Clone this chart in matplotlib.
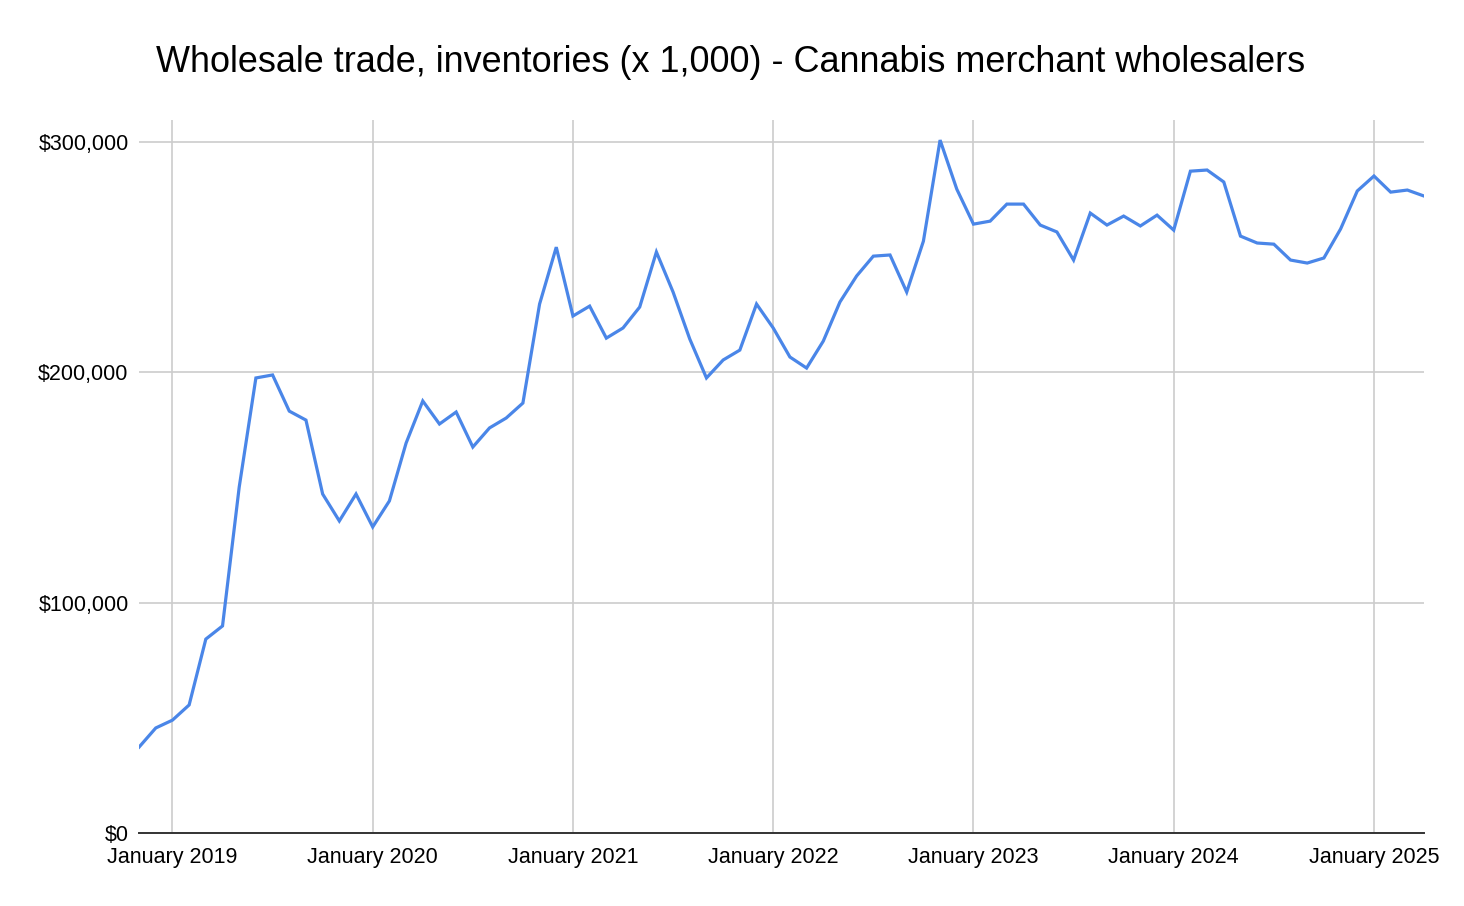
import matplotlib
matplotlib.use("Agg")
import matplotlib.pyplot as plt
from matplotlib.ticker import FuncFormatter

plt.rcParams['font.family'] = ['Liberation Sans', 'DejaVu Sans']

# Monthly data, November 2018 .. April 2025 (x 1,000 dollars)
months = []
for y in range(2018, 2026):
    for m in range(1, 13):
        if (y, m) >= (2018, 11) and (y, m) <= (2025, 4):
            months.append((y, m))

values = [
    37300, 45600,
    49000, 55600, 84200, 89900, 150200, 197600, 198900, 183200, 179300, 147200, 135500, 147200,
    132900, 144200, 169300, 187600, 177600, 182800, 167600, 175900, 180200, 186700, 229700, 254400,
    224500, 228800, 214900, 219300, 228400, 252300, 234900, 214500, 197600, 205400, 209700, 229700,
    219300, 206700, 201900, 213600, 230600, 241900, 250500, 251000, 234900, 257000, 300900, 279600,
    264400, 265700, 273100, 273100, 264000, 261000, 248800, 269200, 264000, 267900, 263600, 268300,
    261800, 287400, 287900, 282700, 259200, 256200, 255700, 248800, 247500, 249700, 262300, 278800,
    285300, 278300, 279200, 276600,
]

tick_labels = ["January 2019", "January 2020", "January 2021", "January 2022",
               "January 2023", "January 2024", "January 2025"]
y_ticks = [0, 100000, 200000, 300000]

idx = list(range(len(values)))
tick_pos = [i for i, (y, m) in enumerate(months) if m == 1]

fig = plt.figure(figsize=(14.64, 9.06), dpi=100)
ax = fig.add_axes([0.095, 0.0806, 0.8777, 0.7869])

ax.plot(idx, values, color='#4a86e8', linewidth=2.3, solid_joinstyle='miter', zorder=3)

ax.set_xlim(0, len(values) - 1)
ax.set_ylim(0, 309600)
ax.set_xticks(tick_pos)
ax.set_xticklabels(tick_labels)
ax.set_yticks(y_ticks)
ax.yaxis.set_major_formatter(FuncFormatter(lambda v, p: "${:,.0f}".format(v)))

ax.grid(True, color='#cccccc', linewidth=1.2, zorder=1)
for s in ['top', 'right', 'left']:
    ax.spines[s].set_visible(False)
ax.spines['bottom'].set_color('#333333')
ax.spines['bottom'].set_linewidth(1.4)
ax.spines['bottom'].set_zorder(4)
ax.tick_params(axis='both', length=0, labelsize=15.5, colors='#000000')
ax.tick_params(axis='x', pad=10)
ax.tick_params(axis='y', pad=7.5)

fig.text(0.499, 0.931, "Wholesale trade, inventories (x 1,000) - Cannabis merchant wholesalers",
         ha='center', va='center', fontsize=25.9, color='#000000')

fig.savefig("out.png", dpi=100, facecolor='white')
